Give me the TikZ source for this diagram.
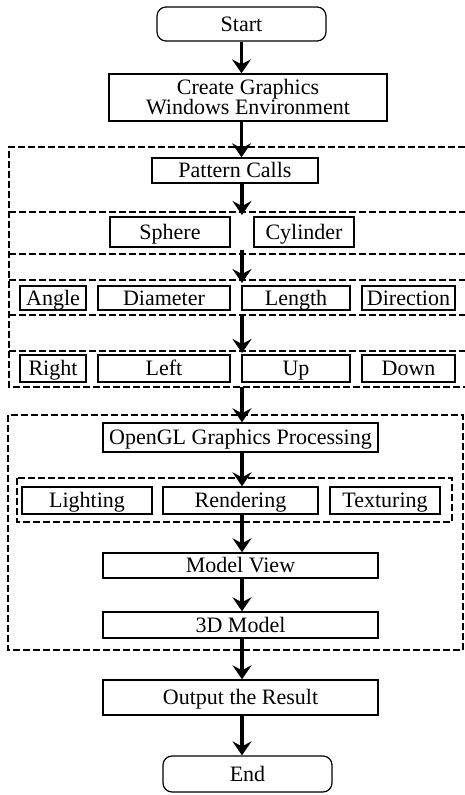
\documentclass[tikz,border=0pt]{standalone}
\usepackage{fontspec}
\setmainfont{Liberation Serif}
\usetikzlibrary{arrows.meta}
\tikzset{
  box/.style={draw,line width=1.4pt,inner sep=0pt,font=\fontsize{22}{20}\selectfont},
  line/.style={box,text height=15pt,text depth=0.5pt},
  term/.style={line,rounded corners=9pt,line width=1.2pt},
  arr/.style={line width=3.8pt,-{Stealth[length=14pt,width=19pt,inset=5pt]}},
  frame/.style={line width=1.1pt,dash pattern=on 7pt off 3pt}
}
\begin{document}
\begin{tikzpicture}[x=1pt,y=-1pt]
            \useasboundingbox (0,0) rectangle (465,795);
            % Place the start and end nodes
            \node[term,minimum width=169pt,minimum height=34pt] (start) at (241.5,24) {Start};
            \node[term,minimum width=169pt,minimum height=36pt] (end) at (247.5,774) {End};

            % Place the upper boxes
            \node[box,minimum width=278pt,minimum height=47pt,align=center] (create) at (248,97.5) {Create Graphics\\Windows Environment};
            \node[line,minimum width=166pt,minimum height=25pt] (pattern) at (235,170.5) {Pattern Calls};
            \node[line,minimum width=120pt,minimum height=30pt] (sphere) at (170,232) {Sphere};
            \node[line,minimum width=100pt,minimum height=30pt] (cylinder) at (304,232) {Cylinder};
            \node[line,minimum width=66pt,minimum height=24pt] (angle) at (53,298) {Angle};
            \node[line,minimum width=132pt,minimum height=24pt] (diameter) at (164,298) {Diameter};
            \node[line,minimum width=108pt,minimum height=24pt] (length) at (296,298) {Length};
            \node[line,minimum width=93pt,minimum height=24pt] (direction) at (408.5,298) {Direction};
            \node[line,minimum width=66pt,minimum height=27pt] (right) at (53,368.5) {Right};
            \node[line,minimum width=132pt,minimum height=27pt] (left) at (164,368.5) {Left};
            \node[line,minimum width=108pt,minimum height=27pt] (up) at (296,368.5) {Up};
            \node[line,minimum width=93pt,minimum height=27pt] (down) at (408.5,368.5) {Down};

            % Place the lower boxes
            \node[line,minimum width=275pt,minimum height=29pt] (opengl) at (240.5,437.5) {OpenGL Graphics Processing};
            \node[line,minimum width=130pt,minimum height=27pt] (lighting) at (87,500.5) {Lighting};
            \node[line,minimum width=155pt,minimum height=27pt] (rendering) at (240.5,500.5) {Rendering};
            \node[line,minimum width=110pt,minimum height=27pt] (texturing) at (385,500.5) {Texturing};
            \node[line,minimum width=275pt,minimum height=25pt] (modelview) at (240.5,565.5) {Model View};
            \node[line,minimum width=275pt,minimum height=26pt] (model) at (240.5,625) {3D Model};
            \node[line,minimum width=275pt,minimum height=35pt] (output) at (240.5,697.5) {Output the Result};

            % The dashed frames
            \draw[frame] (465,147) -- (9,147) -- (9,387) -- (465,387);
            \foreach \y in {212,254,280,315,351}
              \draw[frame] (9,\y) -- (465,\y);
            \draw[frame] (8,415) rectangle (463,650);
            \draw[frame] (17,478) rectangle (452,522);

            % Points on the frame lines
            \coordinate (row1) at (242,215);
            \coordinate (row2) at (242,250);
            \coordinate (row3) at (242,283);
            \coordinate (row4) at (242,315);
            \coordinate (row5) at (242,353);
            \coordinate (row6) at (242,387);

            % The arrows!
            \draw[arr] (start.south) -- (start.south |- create.north);
            \draw[arr] (create.south -| start.south) -- (start.south |- pattern.north);
            \draw[arr] (pattern.south -| row1) -- (row1);
            \draw[arr] (row2) -- (row3);
            \draw[arr] (row4) -- (row5);
            \draw[arr] (row6) -- (row6 |- opengl.north);
            \draw[arr] (opengl.south -| row6) -- (row6 |- rendering.north);
            \draw[arr] (rendering.south -| row6) -- (row6 |- modelview.north);
            \draw[arr] (modelview.south -| row6) -- (row6 |- model.north);
            \draw[arr] (model.south -| row6) -- (row6 |- output.north);
            \draw[arr] (output.south -| row6) -- (row6 |- end.north);
        \end{tikzpicture}
\end{document}
